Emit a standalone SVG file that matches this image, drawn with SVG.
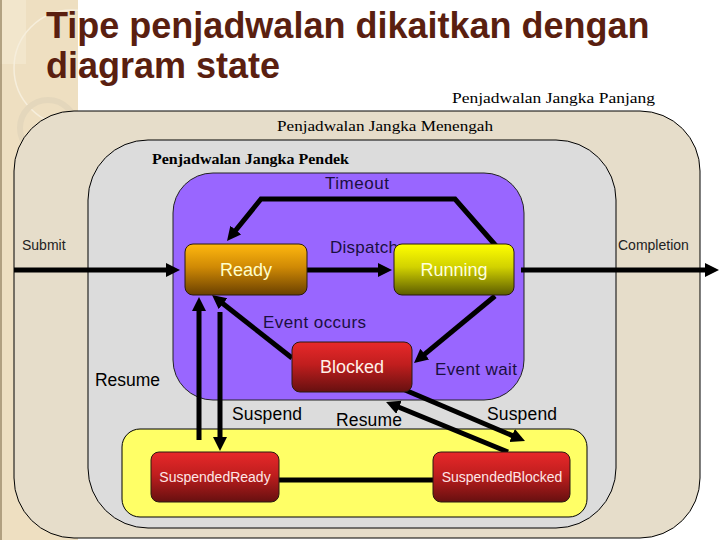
<svg xmlns="http://www.w3.org/2000/svg" width="720" height="540" viewBox="0 0 720 540">
<style>
.title{font-family:"Liberation Sans",Arial,sans-serif;font-weight:bold;font-size:36px;fill:#5A1F10}
.serif{font-family:"Liberation Serif","Times New Roman",serif;font-size:15px;fill:#000}
.lbl{font-family:"Liberation Sans",Arial,sans-serif;font-size:14px;fill:#222}
.blbl{font-family:"Liberation Sans",Arial,sans-serif;font-size:17.5px;fill:#000}
.nlbl{font-family:"Liberation Sans",Arial,sans-serif;font-size:17px;fill:#1B0F3F}
.ntxt{font-family:"Liberation Sans",Arial,sans-serif;font-size:18px;text-anchor:middle}
.stxt{font-family:"Liberation Sans",Arial,sans-serif;font-size:14px;text-anchor:middle;fill:#FFE6E6}
.conn{fill:none;stroke:#000;stroke-width:5;marker-end:url(#ah)}
.plain{fill:none;stroke:#000;stroke-width:5}
.node{stroke:#2A1A10;stroke-width:1}
</style>
<defs>
<marker id="ah" markerUnits="userSpaceOnUse" markerWidth="16" markerHeight="16" refX="4" refY="7" orient="auto">
<path d="M0,0 L14,7 L0,14 z" fill="#000"/>
</marker>
<linearGradient id="gOrange" x1="0" y1="0" x2="0" y2="1">
<stop offset="0" stop-color="#FFB80F"/><stop offset="0.45" stop-color="#D08A05"/><stop offset="1" stop-color="#6A4000"/>
</linearGradient>
<linearGradient id="gYellow" x1="0" y1="0" x2="0" y2="1">
<stop offset="0" stop-color="#FFFF00"/><stop offset="0.45" stop-color="#D2D200"/><stop offset="1" stop-color="#5C5C00"/>
</linearGradient>
<linearGradient id="gRed" x1="0" y1="0" x2="0" y2="1">
<stop offset="0" stop-color="#E8292A"/><stop offset="0.45" stop-color="#C01E1E"/><stop offset="1" stop-color="#661010"/>
</linearGradient>
<clipPath id="stripClip"><rect x="0" y="0" width="78" height="540"/></clipPath>
</defs>

<rect x="0" y="0" width="720" height="540" fill="#FFFFFF"/>
<g id="decor">
<rect x="0" y="0" width="78" height="540" fill="#EEDFC1"/>
<g clip-path="url(#stripClip)">
<rect x="0" y="0" width="26" height="64" fill="#F2E6CC"/>
<circle cx="72" cy="68" r="58" fill="none" stroke="#F6EEDC" stroke-width="1.5"/>
<circle cx="48" cy="128" r="28" fill="none" stroke="#E4D7BC" stroke-width="6"/>
</g>
<line x1="1" y1="0" x2="1" y2="540" stroke="#9C8B6A" stroke-width="1.5"/>
</g>

<g id="title">
<text class="title" x="46" y="38">Tipe penjadwalan dikaitkan dengan</text>
<text class="title" x="46" y="78">diagram state</text>
</g>

<g id="jangka-panjang">
<rect x="14" y="111" width="686" height="427" rx="60" ry="60" fill="#E6DDCA" stroke="#000" stroke-width="1"/>
<text class="serif" x="452" y="103" textLength="203" lengthAdjust="spacingAndGlyphs">Penjadwalan Jangka Panjang</text>
</g>
<g id="jangka-menengah">
<rect x="88" y="140" width="528" height="388" rx="60" ry="60" fill="#DCDCDC" stroke="#000" stroke-width="1"/>
<text class="serif" x="277" y="131" textLength="216" lengthAdjust="spacingAndGlyphs">Penjadwalan Jangka Menengah</text>
</g>
<g id="jangka-pendek">
<rect x="173" y="173" width="351" height="227" rx="40" ry="40" fill="#9966FF" stroke="#222" stroke-width="1"/>
<text class="serif" x="152" y="164" font-weight="bold" textLength="197" lengthAdjust="spacingAndGlyphs">Penjadwalan Jangka Pendek</text>
</g>
<g id="suspended-area">
<rect x="122" y="429" width="465" height="88" rx="18" ry="18" fill="#FFFF66" stroke="#000" stroke-width="1"/>
</g>

<g id="connectors">
<path class="conn" d="M14,270 H170"/>
<path class="conn" d="M307,270 H382"/>
<path class="conn" d="M521,270 H709"/>
<path class="conn" d="M497,247 L455,199 L261,199 L233.3,233.2"/>
<path class="conn" d="M495,296 L421.7,356.6"/>
<path class="conn" d="M292,358 L219.9,301.2"/>
<path class="conn" d="M199,440 V307"/>
<path class="conn" d="M220,312 V441"/>
<path class="plain" d="M279,480 H433"/>
<path class="conn" d="M405,390 L515.8,437.1"/>
<path class="conn" d="M508,452 L395.3,405.8"/>
</g>

<g id="labels">
<text class="nlbl" x="325" y="189" textLength="64">Timeout</text>
<text class="lbl" x="22" y="250">Submit</text>
<text class="lbl" x="618" y="250">Completion</text>
<text class="nlbl" x="330" y="253" textLength="68">Dispatch</text>
<text class="nlbl" x="263" y="328" textLength="103">Event occurs</text>
<text class="nlbl" x="435" y="375" textLength="82">Event wait</text>
<text class="blbl" x="95" y="386" textLength="65">Resume</text>
<text class="blbl" x="232" y="420" textLength="70">Suspend</text>
<text class="blbl" x="336" y="426" textLength="66">Resume</text>
<text class="blbl" x="487" y="420" textLength="70">Suspend</text>
</g>

<g id="ready">
<rect class="node" x="185" y="244" width="122" height="51" rx="8" ry="8" fill="url(#gOrange)"/>
<text class="ntxt" x="246" y="276" fill="#FFFFCC">Ready</text>
</g>
<g id="running">
<rect class="node" x="394" y="244" width="120" height="51" rx="8" ry="8" fill="url(#gYellow)"/>
<text class="ntxt" x="454" y="276" fill="#FFFFDD">Running</text>
</g>
<g id="blocked">
<rect class="node" x="292" y="342" width="120" height="50" rx="8" ry="8" fill="url(#gRed)"/>
<text class="ntxt" x="352" y="373" fill="#FFF0E8">Blocked</text>
</g>
<g id="suspended-ready">
<rect class="node" x="151" y="452" width="128" height="50" rx="8" ry="8" fill="url(#gRed)"/>
<text class="stxt" x="215" y="482">SuspendedReady</text>
</g>
<g id="suspended-blocked">
<rect class="node" x="433" y="452" width="137" height="50" rx="8" ry="8" fill="url(#gRed)"/>
<text class="stxt" x="502" y="482">SuspendedBlocked</text>
</g>
</svg>
